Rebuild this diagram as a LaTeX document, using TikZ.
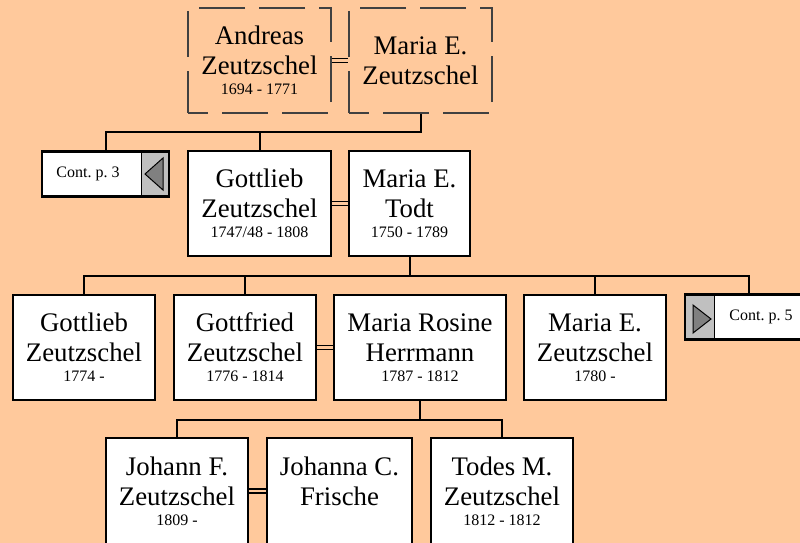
\documentclass[tikz,border=0pt]{standalone}
\usepackage{fontspec}
\setmainfont{Liberation Serif}
\frenchspacing
\definecolor{peach}{HTML}{FFC99C}
\definecolor{contgray}{HTML}{C0C0C0}
\definecolor{arrowgray}{HTML}{808080}
\newcommand{\yrs}[1]{{\fontsize{16}{19}\selectfont #1}}
\tikzset{
  person/.style={draw, fill=white, line width=1.8pt, minimum width=142pt, minimum height=105pt,
    inner sep=0pt, align=center, font=\fontsize{26.8}{30}\selectfont},
  ancestor/.style={person, fill=none, draw=black!75, line width=1.3pt,
    dash pattern=on 46pt off 14pt, dash phase=26pt},
  contbox/.style={draw, fill=white, line width=2.2pt, minimum width=127pt, minimum height=45pt, inner sep=0pt},
  contright/.style={contbox, path picture={
      \fill[contgray] ([xshift=-28pt]path picture bounding box.north east) rectangle (path picture bounding box.south east);
      \draw[line width=0.8pt] ([xshift=-28pt]path picture bounding box.north east) -- ([xshift=-28pt]path picture bounding box.south east);
      \filldraw[fill=arrowgray, line width=1pt] ([xshift=-24pt]path picture bounding box.east)
        -- ([xshift=-6pt,yshift=16pt]path picture bounding box.east)
        -- ([xshift=-6pt,yshift=-16pt]path picture bounding box.east) -- cycle;}},
  contleft/.style={contbox, path picture={
      \fill[contgray] (path picture bounding box.north west) rectangle ([xshift=29pt]path picture bounding box.south west);
      \draw[line width=0.8pt] ([xshift=29pt]path picture bounding box.north west) -- ([xshift=29pt]path picture bounding box.south west);
      \filldraw[fill=arrowgray, line width=1pt] ([xshift=26pt,yshift=-2pt]path picture bounding box.west)
        -- ([xshift=8pt,yshift=12pt]path picture bounding box.west)
        -- ([xshift=8pt,yshift=-16pt]path picture bounding box.west) -- cycle;}},
  conttext/.style={font=\fontsize{16}{19}\selectfont, inner sep=0pt},
  link/.style={line width=2pt},
  marriage/.style={line width=1.4pt, double=peach, double distance=2.8pt},
}
\begin{document}
\begin{tikzpicture}[x=1pt, y=-1pt]
  \useasboundingbox (0,0) rectangle (800,543);
  \fill[peach] (0,0) rectangle (800,543);
  \clip (0,0) rectangle (800,543);

  % generation 0
  \node[ancestor, minimum width=143pt] (andreas) at (259.5,60.5) {Andreas\\Zeutzschel\\[-10pt]\yrs{1694 - 1771}};
  \node[ancestor, minimum width=143pt] (maria0) at (420.5,60.5) {Maria E.\\Zeutzschel};
  \draw[marriage] (andreas.east) -- (maria0.west);

  % generation 1
  \node[contright] (cont3) at (105.5,174) {};
  \node[conttext] (cont3label) at (88,174) {Cont. p. 3};
  \node[person, minimum width=143pt] (gottlieb1) at (259.5,203.5) {Gottlieb\\Zeutzschel\\[-10pt]\yrs{1747/48 - 1808}};
  \node[person, minimum width=121pt] (todt) at (409.5,203.5) {Maria E.\\Todt\\[-10pt]\yrs{1750 - 1789}};
  \draw[marriage] (gottlieb1.east) -- (todt.west);
  \path (maria0.south) ++(0,18) coordinate (fam0);
  \draw[link] (maria0.south) -- (fam0) -| (cont3.north);
  \draw[link] (fam0) -| (gottlieb1.north);

  % generation 2
  \node[person] (gottlieb2) at (84,347.5) {Gottlieb\\Zeutzschel\\[-10pt]\yrs{1774 -}};
  \node[person] (gottfried) at (245,347.5) {Gottfried\\Zeutzschel\\[-10pt]\yrs{1776 - 1814}};
  \node[person, minimum width=172pt] (rosine) at (420,347.5) {Maria Rosine\\Herrmann\\[-10pt]\yrs{1787 - 1812}};
  \node[person] (mariaz) at (595,347.5) {Maria E.\\Zeutzschel\\[-10pt]\yrs{1780 -}};
  \node[contleft] (cont5) at (748.5,317) {};
  \node[conttext] (cont5label) at (761,317) {Cont. p. 5};
  \draw[marriage] (gottfried.east) -- (rosine.west);
  \path (todt.south) ++(0,19) coordinate (fam1);
  \draw[link] (todt.south) -- (fam1) -| (gottlieb2.north);
  \draw[link] (fam1) -| (gottfried.north);
  \draw[link] (fam1) -| (mariaz.north);
  \draw[link] (fam1) -| (cont5.north);

  % generation 3
  \node[person, minimum height=106pt] (johann) at (177,491) {Johann F.\\Zeutzschel\\[-10pt]\yrs{1809 -}};
  \node[person, minimum width=145pt, minimum height=106pt] (johanna) at (339.5,491) {Johanna C.\\Frische\\[-10pt]\yrs{\phantom{1809}}};
  \node[person, minimum height=106pt] (todes) at (502,491) {Todes M.\\Zeutzschel\\[-10pt]\yrs{1812 - 1812}};
  \draw[marriage] (johann.east) -- (johanna.west);
  \path (rosine.south) ++(0,19) coordinate (fam2);
  \draw[link] (rosine.south) -- (fam2) -| (johann.north);
  \draw[link] (fam2) -| (todes.north);
\end{tikzpicture}
\end{document}
